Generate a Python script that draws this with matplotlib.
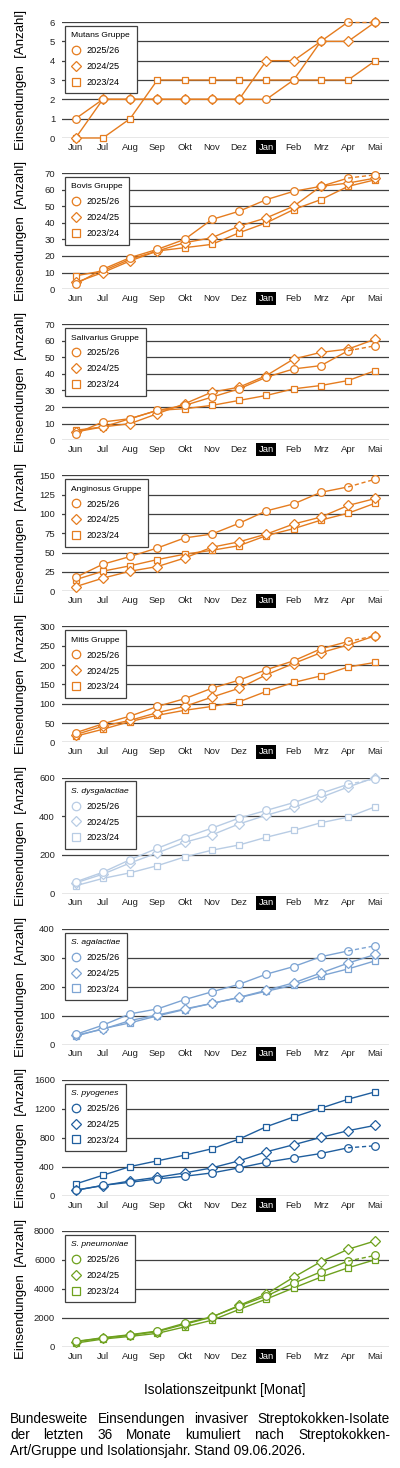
import matplotlib
matplotlib.use('Agg')
import matplotlib.pyplot as plt
from matplotlib.lines import Line2D

plt.rcParams['font.family'] = ['Liberation Sans', 'DejaVu Sans']

# --- Daten (kumulierte Einsendungen je Monat) ---
monate = ['Jun', 'Jul', 'Aug', 'Sep', 'Okt', 'Nov', 'Dez', 'Jan', 'Feb', 'Mrz', 'Apr', 'Mai']
jahre = ['2025/26', '2024/25', '2023/24']

mutans_2526 = [1, 2, 2, 2, 2, 2, 2, 2, 3, 5, 6, 6]
mutans_2425 = [0, 2, 2, 2, 2, 2, 2, 4, 4, 5, 5, 6]
mutans_2324 = [0, 0, 1, 3, 3, 3, 3, 3, 3, 3, 3, 4]

bovis_2526 = [3, 12, 19, 24, 30, 42, 47, 54, 59, 62, 67, 69]
bovis_2425 = [4, 10, 17, 23, 28, 31, 38, 43, 50, 62, 64, 67]
bovis_2324 = [8, 11, 18, 23, 25, 27, 34, 40, 48, 54, 62, 66]

salivarius_2526 = [4, 11, 13, 18, 21, 26, 31, 38, 43, 45, 54, 57]
salivarius_2425 = [5, 8, 10, 16, 22, 29, 32, 39, 49, 53, 55, 61]
salivarius_2324 = [6, 8, 13, 18, 19, 21, 24, 27, 31, 33, 36, 42]

anginosus_2526 = [18, 35, 45, 56, 69, 74, 88, 104, 113, 128, 135, 145]
anginosus_2425 = [6, 17, 26, 32, 43, 57, 64, 74, 87, 96, 111, 120]
anginosus_2324 = [15, 26, 33, 41, 48, 53, 59, 72, 81, 92, 101, 114]

mitis_2526 = [25, 48, 68, 93, 113, 140, 161, 188, 211, 242, 261, 276]
mitis_2425 = [20, 42, 57, 77, 93, 117, 140, 175, 204, 232, 252, 276]
mitis_2324 = [16, 34, 54, 70, 83, 93, 105, 132, 155, 172, 195, 207]

dysgalactiae_2526 = [60, 110, 175, 234, 289, 338, 390, 430, 470, 518, 565, 593]
dysgalactiae_2425 = [55, 100, 158, 210, 265, 303, 360, 405, 445, 497, 551, 600]
dysgalactiae_2324 = [40, 78, 107, 144, 189, 224, 251, 291, 326, 366, 395, 449]

agalactiae_2526 = [35, 67, 106, 123, 155, 182, 208, 243, 269, 303, 323, 341]
agalactiae_2425 = [32, 53, 83, 102, 123, 142, 163, 187, 213, 247, 281, 311]
agalactiae_2324 = [29, 55, 75, 99, 121, 142, 162, 184, 205, 237, 261, 289]

pyogenes_2526 = [74, 143, 185, 231, 268, 314, 384, 462, 522, 582, 661, 689]
pyogenes_2425 = [76, 140, 203, 254, 314, 384, 481, 606, 703, 804, 897, 971]
pyogenes_2324 = [162, 282, 402, 481, 559, 647, 781, 952, 1086, 1207, 1331, 1433]

pneumoniae_2526 = [371, 626, 835, 1090, 1624, 2064, 2806, 3500, 4383, 5171, 5913, 6307]
pneumoniae_2425 = [350, 600, 800, 1050, 1550, 2050, 2853, 3640, 4800, 5870, 6728, 7308]
pneumoniae_2324 = [255, 533, 719, 928, 1369, 1833, 2575, 3294, 4060, 4803, 5452, 6009]

titel = ['Mutans Gruppe', 'Bovis Gruppe', 'Salivarius Gruppe', 'Anginosus Gruppe',
         'Mitis Gruppe', 'S. dysgalactiae', 'S. agalactiae', 'S. pyogenes', 'S. pneumoniae']
y_max = [6, 70, 70, 150, 300, 600, 400, 1600, 8000]
y_schritt = [1, 10, 10, 25, 50, 200, 100, 400, 2000]

reihen = [
    (mutans_2526, mutans_2425, mutans_2324),
    (bovis_2526, bovis_2425, bovis_2324),
    (salivarius_2526, salivarius_2425, salivarius_2324),
    (anginosus_2526, anginosus_2425, anginosus_2324),
    (mitis_2526, mitis_2425, mitis_2324),
    (dysgalactiae_2526, dysgalactiae_2425, dysgalactiae_2324),
    (agalactiae_2526, agalactiae_2425, agalactiae_2324),
    (pyogenes_2526, pyogenes_2425, pyogenes_2324),
    (pneumoniae_2526, pneumoniae_2425, pneumoniae_2324),
]

ORANGE = '#E57C1F'
farben = [ORANGE] * 5 + ['#B8CCE4', '#7DA4D3', '#1F5E9E', '#6EA11E']
marker = ['o', 'D', 's']
marker_groesse = [5.5, 4.6, 4.8]
GRID = '#404040'

fig = plt.figure(figsize=(4.0, 14.68), dpi=100)
W, H = 400.0, 1468.0

for i in range(9):
    top = 22 + i * 151.1
    ax = fig.add_axes([62 / W, 1 - (top + 116) / H, 327 / W, 116 / H])
    farbe = farben[i]
    x = list(range(12))

    # aeltestes Jahr zuerst, aktuelles Jahr oben
    for j in (2, 1, 0):
        werte = reihen[i][j]
        stil = dict(color=farbe, marker=marker[j], ms=marker_groesse[j], mfc='white',
                    mec=farbe, mew=0.9, lw=1.0, clip_on=False, zorder=3 + (2 - j))
        if j == 0:
            ax.plot(x[:11], werte[:11], **stil)
            ax.plot(x[10:], werte[10:], ls=(0, (3, 2)), markevery=[1], **stil)
        else:
            ax.plot(x, werte, **stil)

    ax.set_xlim(-0.5, 11.5)
    ax.set_ylim(0, y_max[i])
    ax.set_yticks(range(0, y_max[i] + 1, y_schritt[i]))
    ax.set_xticks(x)
    ax.set_xticklabels(monate)
    ax.tick_params(length=0, labelsize=6.8, colors='#222222')
    ax.tick_params(axis='x', pad=3.5)
    ax.tick_params(axis='y', pad=5)
    for lab in ax.get_xticklabels():
        if lab.get_text() == 'Jan':
            lab.set_color('white')
            lab.set_bbox(dict(boxstyle='square,pad=0.25', fc='black', ec='none'))

    for s in ax.spines.values():
        s.set_visible(False)
    ax.yaxis.grid(True, color=GRID, lw=0.9)
    ax.set_axisbelow(True)

    ax.set_ylabel('Einsendungen  [Anzahl]', fontsize=9.5)
    ax.yaxis.set_label_coords(-0.108, 0.5)

    handles = [Line2D([], [], ls='none', marker=marker[j], ms=marker_groesse[j] + 0.6,
                      mfc='white', mec=farbe, mew=0.9) for j in range(3)]
    leg = ax.legend(handles, jahre, title=titel[i], loc='upper left',
                    bbox_to_anchor=(0.009, 0.966), borderaxespad=0, fontsize=6.6,
                    title_fontsize=6.1, alignment='left', fancybox=False,
                    edgecolor=GRID, framealpha=1, handlelength=1.0,
                    handletextpad=0.6, labelspacing=0.75, borderpad=0.7)
    leg.get_frame().set_linewidth(0.9)
    leg.set_zorder(10)
    if titel[i].startswith('S. '):
        leg.get_title().set_fontstyle('italic')

fig.text(225 / W, 1 - 1390 / H, 'Isolationszeitpunkt [Monat]', ha='center', va='center',
         fontsize=9.8)


# Bildunterschrift im Blocksatz
def blocksatz(zeile, y, x0, x1, size):
    r = fig.canvas.get_renderer()
    woerter = zeile.split()
    texte = [fig.text(0, y, w, fontsize=size, va='center') for w in woerter]
    breiten = [t.get_window_extent(r).width for t in texte]
    fw = fig.bbox.width
    luecke = ((x1 - x0) * fw - sum(breiten)) / (len(woerter) - 1)
    pos = x0 * fw
    for t, b in zip(texte, breiten):
        t.set_x(pos / fw)
        pos += b + luecke


blocksatz('Bundesweite Einsendungen invasiver Streptokokken-Isolate', 1 - 1419 / H, 10 / W, 390 / W, 9.8)
blocksatz('der letzten 36 Monate kumuliert nach Streptokokken-', 1 - 1435 / H, 10 / W, 390 / W, 9.8)
fig.text(10 / W, 1 - 1451 / H, 'Art/Gruppe und Isolationsjahr. Stand 09.06.2026.', va='center',
         fontsize=9.8)

fig.savefig('out.png', dpi=100)
